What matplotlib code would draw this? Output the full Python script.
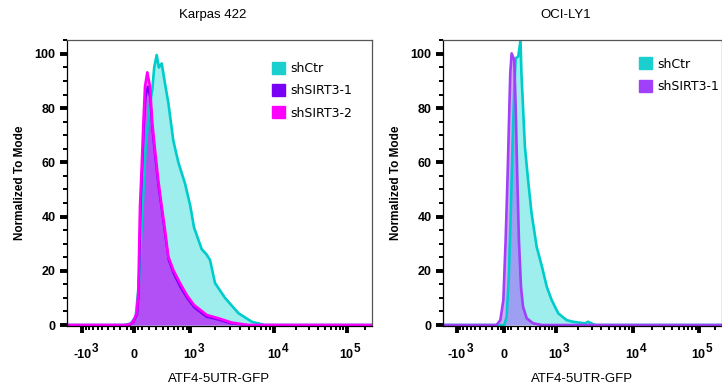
import numpy as np
import matplotlib
matplotlib.use('Agg')
import matplotlib.pyplot as plt
from matplotlib.patches import Patch
from matplotlib.ticker import FixedLocator, FixedFormatter, MultipleLocator

# ---------------- data ----------------
titles = ["Karpas 422", "OCI-LY1"]
x_label = "ATF4-5UTR-GFP"
y_label = "Normalized To Mode"

major_ticks = [-1000, 0, 1000, 10000, 100000]
major_bases = ["-10", "0", "10", "10", "10"]
major_exps = ["3", "", "3", "4", "5"]
minor_ticks = ([-900, -800, -700, -600, -500, -400, -300, -200, -100, -50,
                50, 100, 200, 300, 400, 500, 600, 700, 800, 900]
               + [2000, 3000, 4000, 5000, 6000, 7000, 8000, 9000]
               + [20000, 30000, 40000, 50000, 60000, 70000, 80000, 90000, 200000])

# Karpas 422
k_ctr_x = [-1500, -150, -50, 20, 60, 100, 150, 200, 243, 270, 307, 340, 386, 441, 499, 594,
           700, 862, 1000, 1118, 1393, 1600, 1760, 2020, 2655, 3800, 5460, 7760, 262144]
k_ctr_y = [0, 0, 0.5, 3, 15, 38, 65, 80, 87, 95, 99.6, 95, 96.5, 89, 82, 68,
           60, 52, 44, 36, 28, 26, 24, 15.5, 10, 4.4, 1.2, 0, 0]

k_s1_x = [-1500, -60, -10, 40, 58, 68, 82, 103, 125, 150, 178, 212, 245, 285, 335, 390,
          445, 505, 600, 745, 910, 1120, 1600, 2200, 3100, 4800, 262144]
k_s1_y = [0, 0, 1, 4, 11, 24, 42, 57, 72, 84, 88, 84, 72, 62, 51, 42,
          33, 24, 19, 14, 10, 6.5, 3.0, 2.0, 0.6, 0, 0]

k_s2_x = [-1500, -110, -40, -10, 33, 54, 63, 76, 98, 120, 142, 173, 210, 243, 282, 331, 386,
          441, 499, 594, 739, 906, 1118, 1605, 2210, 3185, 4955, 262144]
k_s2_y = [0, 0, 0.5, 1.5, 4.4, 11.8, 25.2, 43.7, 58.4, 74.5, 88, 93.2, 88, 74.4, 64.6, 53.5, 43.7,
          35, 25.2, 20.3, 15.4, 11, 7.4, 3.7, 2.5, 0.9, 0, 0]

# OCI-LY1
o_ctr_x = [-1500, 0, 32.6, 65, 93.5, 118, 141, 162, 200, 236, 250, 275, 306, 360, 422,
           520, 635, 750, 882, 1090, 1415, 1735, 2465, 2715, 3315, 262144]
o_ctr_y = [0, 0, 3, 19, 43.7, 68, 86.7, 98.4, 99, 105, 92.9, 80.6, 65.8, 53.5, 41.2,
           28.9, 21.5, 14.1, 9.2, 4.3, 1.8, 1.2, 0.6, 1.2, 0, 0]

o_s1_x = [-1500, -120, -61, -15, 18.5, 46.8, 65, 84, 103.5, 141, 162, 185, 211, 243, 275,
          335, 452, 635, 262144]
o_s1_y = [0, 0, 1.8, 9.2, 31.4, 56, 74.4, 92.9, 100.2, 97.8, 80.6, 56, 31.4, 14.1, 6.8,
          2.5, 0.6, 0, 0]

# ---------------- biexponential-like display scale ----------------
KX = np.array([-1500., -1000., 0., 1000., 1e4, 1e5, 262144.])
KP = np.array([0., 0.05, 0.22, 0.404, 0.68, 0.917, 1.0])
C = 500.
KU = np.arcsinh(KX / C)


def _interp_ext(v, xs, ys):
    v = np.asarray(v, dtype=float)
    out = np.interp(v, xs, ys)
    s0 = (ys[1] - ys[0]) / (xs[1] - xs[0])
    s1 = (ys[-1] - ys[-2]) / (xs[-1] - xs[-2])
    out = np.where(v < xs[0], ys[0] + (v - xs[0]) * s0, out)
    out = np.where(v > xs[-1], ys[-1] + (v - xs[-1]) * s1, out)
    return out


def fwd(x):
    return _interp_ext(np.arcsinh(np.asarray(x, dtype=float) / C), KU, KP)


def inv(p):
    u = _interp_ext(p, KP, KU)
    return C * np.sinh(np.clip(u, -50, 50))


fig = plt.figure(figsize=(7.22, 3.89), dpi=100)
axL = fig.add_axes([0.0928, 0.161, 0.4225, 0.7373])
axR = fig.add_axes([0.6136, 0.161, 0.3860, 0.7373])

CYAN = '#00cccc'
CYAN_FILL = '#00d4d4'
VIOLET_L = '#7a00f5'
MAGENTA = '#ff00ff'
VIOLET_R = '#a040f8'

BASE_W_PX = {"-10": 18.5, "0": 7.0, "10": 14.0}


def style_axis(ax, title, tx):
    ax.set_xscale('function', functions=(fwd, inv))
    ax.set_xlim(-1500, 262144)
    ax.set_ylim(-0.5, 105.3)
    ax.xaxis.set_major_locator(FixedLocator(major_ticks))
    ax.xaxis.set_major_formatter(FixedFormatter(major_bases))
    ax.xaxis.set_minor_locator(FixedLocator(minor_ticks))
    ax.yaxis.set_major_locator(FixedLocator([0, 20, 40, 60, 80, 100]))
    ax.yaxis.set_minor_locator(MultipleLocator(5))
    ax.tick_params(axis='both', which='major', direction='out', length=5.2, width=2.8,
                   color='black', labelsize=9, pad=3)
    ax.tick_params(axis='both', which='minor', direction='out', length=3.0, width=1.4,
                   color='black')
    ax.tick_params(axis='x', which='major', pad=11)
    for lab in ax.get_yticklabels() + ax.get_xticklabels():
        lab.set_fontweight('bold')
        lab.set_fontfamily('Liberation Sans')
    # exponents of the decade labels
    for t, b, e in zip(major_ticks, major_bases, major_exps):
        if e:
            ax.annotate(e, xy=(t, 0), xycoords=ax.get_xaxis_transform(),
                        xytext=(BASE_W_PX[b] / 2 + 0.2, -22.5), textcoords='offset pixels',
                        ha='left', va='center', fontsize=8.5, fontweight='bold',
                        family='Liberation Sans', annotation_clip=False)
    for s in ['top', 'right']:
        ax.spines[s].set_color('#555555')
        ax.spines[s].set_linewidth(0.9)
    for s in ['left', 'bottom']:
        ax.spines[s].set_color('black')
        ax.spines[s].set_linewidth(0.9)
    ax.set_xlabel(x_label, fontsize=9.5, family='Liberation Sans', labelpad=9)
    ax.set_ylabel(y_label, fontsize=8.5, family='Liberation Sans', fontweight='bold',
                  labelpad=6)
    fig.text(tx, 0.962, title, ha='center', va='center', fontsize=9.5,
             family='Liberation Sans')


# Karpas 422
axL.fill_between(k_ctr_x, k_ctr_y, 0, color=CYAN_FILL, alpha=0.38, lw=0)
axL.fill_between(k_s2_x, k_s2_y, 0, color=MAGENTA, alpha=0.5, lw=0)
axL.fill_between(k_s1_x, k_s1_y, 0, color=VIOLET_L, alpha=0.33, lw=0)
axL.plot(k_ctr_x, k_ctr_y, color=CYAN, lw=1.9)
axL.plot(k_s1_x, k_s1_y, color=VIOLET_L, lw=1.6)
axL.plot(k_s2_x, k_s2_y, color=MAGENTA, lw=1.9)
style_axis(axL, titles[0], 0.295)
handlesL = [Patch(color='#1ccfcf', label='shCtr'),
            Patch(color=VIOLET_L, label='shSIRT3-1'),
            Patch(color=MAGENTA, label='shSIRT3-2')]
axL.legend(handles=handlesL, loc='upper left', bbox_to_anchor=(0.655, 0.94), frameon=False,
           handlelength=1.05, handleheight=1.1, handletextpad=0.45,
           labelspacing=0.72, borderaxespad=0.0, prop={'family': 'DejaVu Sans', 'size': 9})

# OCI-LY1
axR.fill_between(o_ctr_x, o_ctr_y, 0, color=CYAN_FILL, alpha=0.38, lw=0)
axR.fill_between(o_s1_x, o_s1_y, 0, color=VIOLET_R, alpha=0.45, lw=0)
axR.plot(o_ctr_x, o_ctr_y, color=CYAN, lw=1.9)
axR.plot(o_s1_x, o_s1_y, color=VIOLET_R, lw=1.9)
style_axis(axR, titles[1], 0.783)
handlesR = [Patch(color='#1ccfcf', label='shCtr'),
            Patch(color=VIOLET_R, label='shSIRT3-1')]
axR.legend(handles=handlesR, loc='upper left', bbox_to_anchor=(0.685, 0.955), frameon=False,
           handlelength=1.05, handleheight=1.1, handletextpad=0.45,
           labelspacing=0.72, borderaxespad=0.0, prop={'family': 'DejaVu Sans', 'size': 9})

fig.savefig('out.png', dpi=100)
